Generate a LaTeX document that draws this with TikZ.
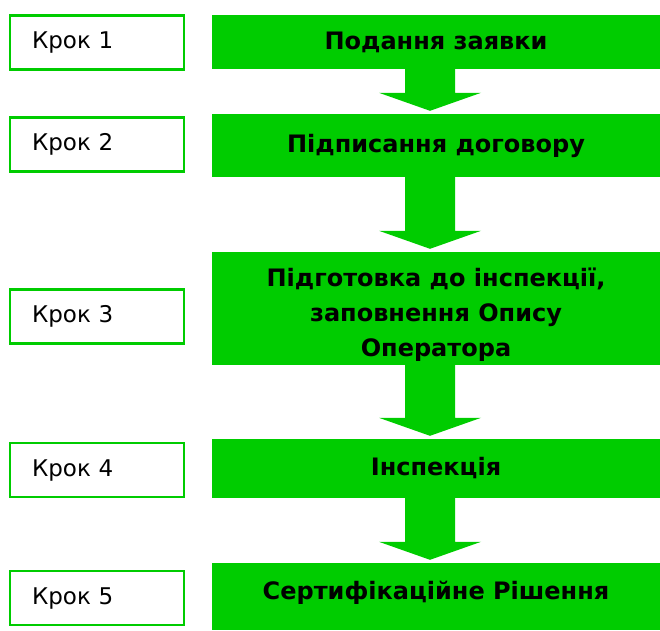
\documentclass[tikz,border=0pt]{standalone}
\usepackage{fontspec}
\setmainfont{DejaVu Sans}
\usetikzlibrary{calc}
\definecolor{stepgreen}{HTML}{00CC00}
\tikzset{
krok/.style={
	  draw=stepgreen, line width=2.5pt, inner xsep=22pt, inner ysep=0pt,
	    text width=130pt, align=left, minimum height=54pt,
    font=\fontsize{23}{27}\selectfont},
stage/.style={
	  fill=stepgreen, inner sep=0pt, minimum width=448pt, align=center,
    font=\bfseries\fontsize{24}{35}\selectfont}
}
\newcommand{\stagearrow}[2]{
	\fill[stepgreen] ($(#1.south)+(-31,0)$) -- ($(#1.south)+(19,0)$)
	-- ($(#2.north)+(19,-21)$) -- ($(#2.north)+(45,-21)$)
	-- ($(#2.north)+(-6,-3)$) -- ($(#2.north)+(-57,-21)$)
	-- ($(#2.north)+(-31,-21)$) -- cycle;
}

\begin{document}
\begin{tikzpicture}[x=1pt, y=-1pt]
	\useasboundingbox (0,0) rectangle (660,630);
	\node[krok] (k1) at (97,42.5) {Крок 1};
	\node[krok] (k2) at (97,144.5) {Крок 2};
	\node[krok] (k3) at (97,316.5) {Крок 3};
	\node[krok] (k4) at (97,470) {Крок 4};
	\node[krok] (k5) at (97,598) {Крок 5};
	\node[stage, minimum height=54pt] (s1) at (436,42) {Подання заявки};
	\node[stage, minimum height=63pt] (s2) at (436,145.5) {Підписання договору};
	\node[stage, minimum height=113pt, text height=100pt] (s3) at (436,308.5)
	{Підготовка до інспекції,\\ заповнення Опису\\ Оператора};
	\node[stage, minimum height=59pt] (s4) at (436,468.5) {Інспекція};
	\node[stage, minimum height=67pt, text depth=13pt] (s5) at (436,596.5)
	{Сертифікаційне Рішення};
	\foreach \a/\b in {s1/s2, s2/s3, s3/s4, s4/s5}
	\stagearrow{\a}{\b};
\end{tikzpicture}
\end{document}
